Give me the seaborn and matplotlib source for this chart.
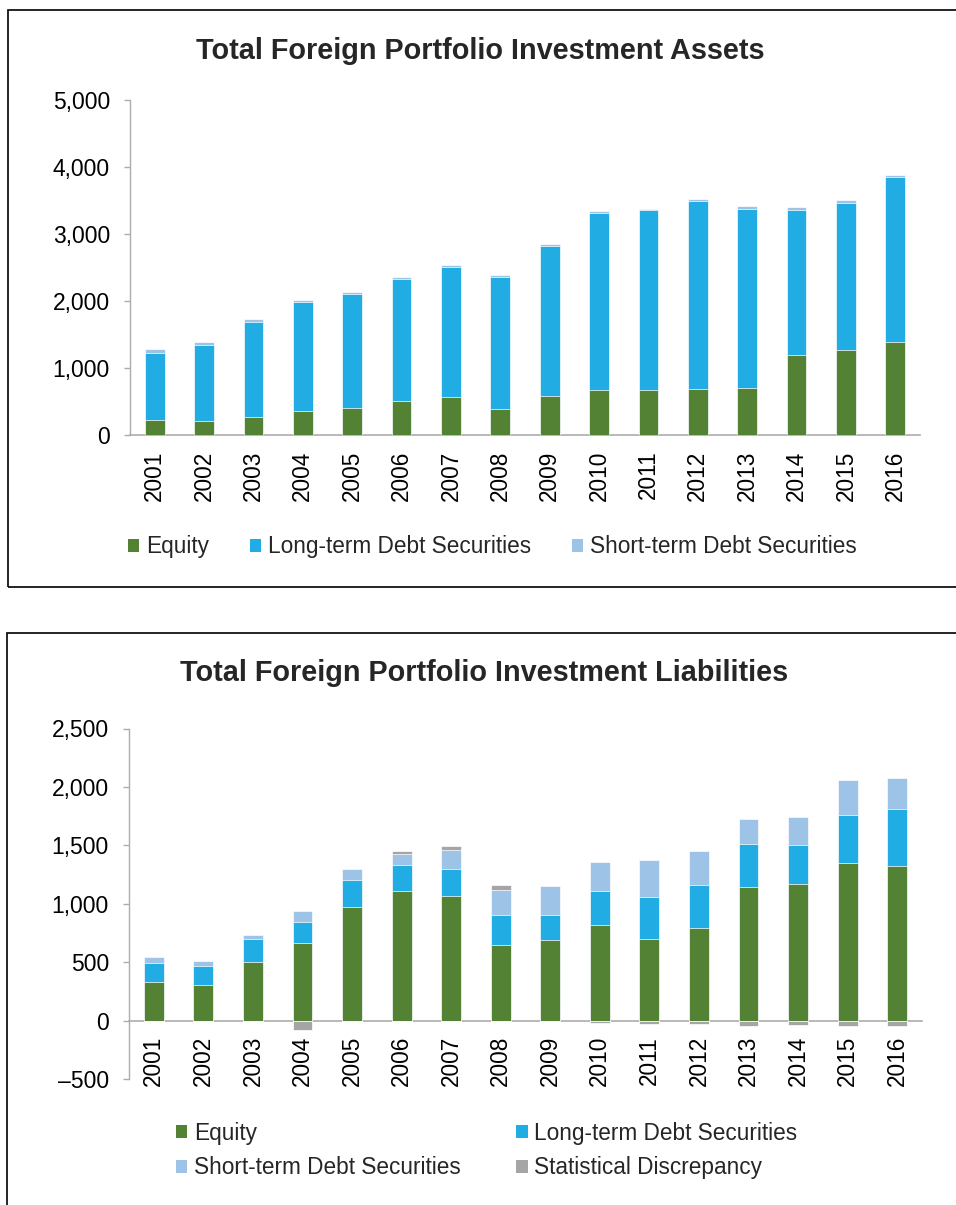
import matplotlib
matplotlib.use("Agg")
import matplotlib.pyplot as plt
from matplotlib.patches import Rectangle, Patch
from matplotlib.ticker import FuncFormatter, FixedLocator
import seaborn as sns
import numpy as np
import pandas as pd

# ---------------- data ----------------
years = [str(y) for y in range(2001, 2017)]

# Assets (USD bn)
assets_equity = [225, 205, 275, 360, 410, 505, 570, 390, 587, 677, 667, 687, 706, 1194, 1274, 1393]
assets_long = [1005, 1145, 1410, 1625, 1690, 1825, 1940, 1965, 2229, 2641, 2686, 2810, 2672, 2159, 2194, 2453]
assets_short = [60, 45, 45, 35, 30, 25, 30, 30, 30, 30, 20, 30, 40, 50, 44, 35]

# Liabilities (USD bn)
liab_equity = [330, 301, 500, 662, 969, 1105, 1063, 648, 693, 815, 698, 792, 1143, 1166, 1348, 1322]
liab_long = [167, 168, 199, 185, 233, 225, 238, 258, 213, 294, 359, 371, 370, 336, 410, 485]
liab_short = [43, 42, 37, 93, 94, 99, 162, 213, 243, 245, 320, 288, 211, 239, 303, 271]
liab_stat = [0, 0, 0, -77, 0, 20, 29, 40, 0, -23, -26, -26, -43, -40, -48, -46]

title_assets = "Total Foreign Portfolio Investment Assets"
title_liab = "Total Foreign Portfolio Investment Liabilities"
lab_eq = "Equity"
lab_lt = "Long-term Debt Securities"
lab_st = "Short-term Debt Securities"
lab_sd = "Statistical Discrepancy"

# ---------------- style ----------------
C_EQ = "#548235"
C_LT = "#21ADE3"
C_ST = "#9DC3E6"
C_SD = "#A5A5A5"
AX_C = "#ADADAD"

sns.set_theme(style="white")
plt.rcParams["font.family"] = ["Liberation Sans", "DejaVu Sans"]

W, H = 956, 1205
fig = plt.figure(figsize=(W / 100, H / 100), dpi=100)


def px_axes(left, top, right, bottom):
    return fig.add_axes([left / W, 1 - bottom / H, (right - left) / W, (bottom - top) / H])


def fmt(v, pos):
    if v < 0:
        return "\u2013" + f"{abs(int(v)):,}"
    return f"{int(v):,}"


def style_axes(ax, ylim, ticks):
    ax.set_ylim(*ylim)
    ax.set_xlim(-0.5, len(years) - 0.5)
    ax.yaxis.set_major_locator(FixedLocator(ticks))
    ax.yaxis.set_major_formatter(FuncFormatter(fmt))
    for s in ["top", "right"]:
        ax.spines[s].set_visible(False)
    ax.spines["left"].set_color(AX_C)
    ax.spines["bottom"].set_color(AX_C)
    ax.spines["left"].set_linewidth(1.0)
    ax.spines["bottom"].set_linewidth(1.2)
    ax.spines["bottom"].set_position(("data", 0))
    ax.tick_params(axis="y", which="major", left=True, length=4, width=1.0, color=AX_C,
                   labelsize=16.5, pad=10.5, labelcolor="black")
    ax.tick_params(axis="x", which="major", bottom=False, length=0, labelsize=16.3,
                   pad=11, labelrotation=90, labelcolor="black")
    ax.set_xlabel("")
    ax.set_ylabel("")
    ax.grid(False)
    ax.set_facecolor("none")


def layer(ax, vals, color, zorder):
    df = pd.DataFrame({"year": years, "v": vals})
    sns.barplot(data=df, x="year", y="v", color=color, saturation=1, width=0.4,
                errorbar=None, ax=ax, order=years, edgecolor="white", linewidth=0.5,
                zorder=zorder)


# ---------------- boxes ----------------
fig.patches.append(Rectangle((8 / W, 1 - 587 / H), (W + 20) / W, (587 - 10) / H,
                             transform=fig.transFigure, fill=False, ec="black", lw=1.2))
fig.patches.append(Rectangle((7 / W, 1 - (H + 20) / H), (W + 20) / W, (H + 20 - 633) / H,
                             transform=fig.transFigure, fill=False, ec="black", lw=1.2))

# ---------------- top chart ----------------
ax1 = px_axes(130, 100, 920, 435)
eq = np.array(assets_equity)
lt = np.array(assets_long)
st = np.array(assets_short)
layer(ax1, eq + lt + st, C_ST, 2)
layer(ax1, eq + lt, C_LT, 3)
layer(ax1, eq, C_EQ, 4)
style_axes(ax1, (0, 5000), [0, 1000, 2000, 3000, 4000, 5000])
fig.text(480.5 / W, 1 - 51 / H, title_assets, ha="center", va="center",
         fontsize=20.8, fontweight="bold")

h_eq = Patch(facecolor=C_EQ, edgecolor="none")
h_lt = Patch(facecolor=C_LT, edgecolor="none")
h_st = Patch(facecolor=C_ST, edgecolor="none")
h_sd = Patch(facecolor=C_SD, edgecolor="none")

fig.legend([h_eq, h_lt, h_st], [lab_eq, lab_lt, lab_st], ncol=3, frameon=False,
           loc="center left", bbox_to_anchor=(128 / W, 1 - 547 / H), fontsize=16.3,
           handlelength=0.5, handleheight=0.5, handletextpad=0.3, columnspacing=1.8,
           borderpad=0, borderaxespad=0)

# ---------------- bottom chart ----------------
ax2 = px_axes(129, 728.5, 922, 1079)
eq = np.array(liab_equity)
lt = np.array(liab_long)
st = np.array(liab_short)
sd = np.array(liab_stat)
sd_pos = np.where(sd > 0, sd, 0)
sd_neg = np.where(sd < 0, sd, 0)
layer(ax2, eq + lt + st + sd_pos, C_SD, 1)
layer(ax2, eq + lt + st, C_ST, 2)
layer(ax2, eq + lt, C_LT, 3)
layer(ax2, eq, C_EQ, 4)
layer(ax2, sd_neg, C_SD, 4)
style_axes(ax2, (-500, 2500), [-500, 0, 500, 1000, 1500, 2000, 2500])
fig.text(484 / W, 1 - 673 / H, title_liab, ha="center", va="center",
         fontsize=20.8, fontweight="bold")

fig.legend([h_eq, h_st, h_lt, h_sd], [lab_eq, lab_st, lab_lt, lab_sd], ncol=2, frameon=False,
           loc="center left", bbox_to_anchor=(176 / W, 1 - 1150.5 / H), fontsize=16.3,
           handlelength=0.5, handleheight=0.5, handletextpad=0.3, columnspacing=2.45,
           labelspacing=0.53, borderpad=0, borderaxespad=0)

fig.savefig("out.png", dpi=100, facecolor="white")
